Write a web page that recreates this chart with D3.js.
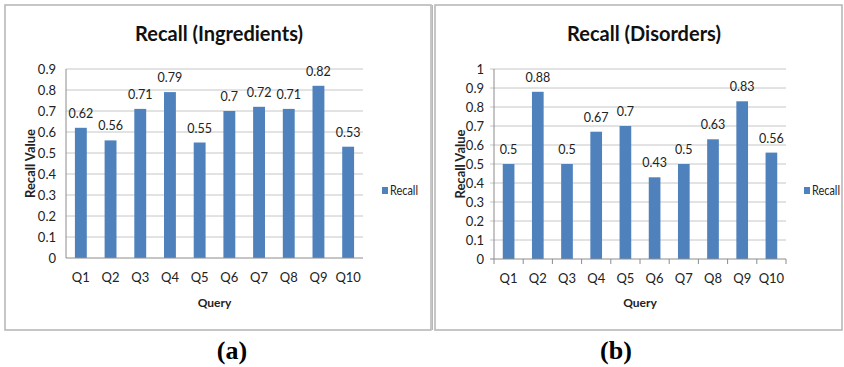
<!DOCTYPE html>
<html><head><meta charset="utf-8">
<script src="https://cdn.jsdelivr.net/npm/d3@7"></script>
<style>body{margin:0;background:#fff;}svg{display:block;}</style>
</head><body>
<svg id="chart" width="844" height="367"></svg>
<script>
const categories = ["Q1","Q2","Q3","Q4","Q5","Q6","Q7","Q8","Q9","Q10"];
const recallIngredients = [0.62,0.56,0.71,0.79,0.55,0.7,0.72,0.71,0.82,0.53];
const recallDisorders = [0.5,0.88,0.5,0.67,0.7,0.43,0.5,0.63,0.83,0.56];
const ticksIngredients = [0,0.1,0.2,0.3,0.4,0.5,0.6,0.7,0.8,0.9];
const ticksDisorders = [0,0.1,0.2,0.3,0.4,0.5,0.6,0.7,0.8,0.9,1];
const titles = ["Recall (Ingredients)","Recall (Disorders)"];
const captions = ["(a)","(b)"];
const seriesName = "Recall";

const svg = d3.select("#chart");
const FONT = "Lato, 'Open Sans', sans-serif";
const BAR = "#4f81bd";

function panel(cfg){
  const g = svg.append("g");
  g.append("rect").attr("x",cfg.box[0]).attr("y",cfg.box[1]).attr("width",cfg.box[2]).attr("height",cfg.box[3])
    .attr("fill","#fff").attr("stroke","#b8b8b8").attr("stroke-width",1.6);
  const x = d3.scaleBand().domain(categories).range([cfg.left,cfg.right]).paddingInner(0.6).paddingOuter(0.3);
  const xb = d3.scaleBand().domain(categories).range([cfg.left,cfg.right]);
  const y = d3.scaleLinear().domain([0,cfg.ymax]).range([cfg.bottom,cfg.top]);
  g.selectAll(".grid").data(cfg.ticks.filter(t=>t>0)).join("line")
    .attr("x1",cfg.left-(cfg.xticks?4:0)).attr("x2",cfg.right)
    .attr("y1",d=>y(d)).attr("y2",d=>y(d)).attr("stroke","#c6c6c6").attr("stroke-width",1);
  g.selectAll(".yl").data(cfg.ticks).join("text")
    .attr("x",cfg.left-10).attr("y",d=>y(d)).attr("dy","0.35em")
    .attr("text-anchor","end").attr("font-family",FONT).attr("font-size",13).attr("fill","#222")
    .text(d=>String(d));
  g.selectAll(".bar").data(cfg.values).join("rect")
    .attr("x",(d,i)=>x(categories[i])).attr("width",x.bandwidth())
    .attr("y",d=>y(d)).attr("height",d=>cfg.bottom-y(d)).attr("fill",BAR);
  g.selectAll(".dl").data(cfg.values).join("text")
    .attr("x",(d,i)=>x(categories[i])+x.bandwidth()/2).attr("y",d=>y(d)-10)
    .attr("text-anchor","middle").attr("font-family",FONT).attr("font-size",12.5).attr("fill","#222")
    .text(d=>String(d));
  g.append("line").attr("x1",cfg.left).attr("x2",cfg.left).attr("y1",cfg.top).attr("y2",cfg.bottom).attr("stroke","#8c8c8c");
  g.append("line").attr("x1",cfg.left-(cfg.xticks?4:0)).attr("x2",cfg.right).attr("y1",cfg.bottom).attr("y2",cfg.bottom).attr("stroke","#8c8c8c");
  if(cfg.xticks){
    const bounds = categories.map(c=>xb(c)).concat([cfg.right]);
    g.selectAll(".xt").data(bounds).join("line")
      .attr("x1",d=>d).attr("x2",d=>d).attr("y1",cfg.bottom).attr("y2",cfg.bottom+5).attr("stroke","#8c8c8c");
  }
  g.selectAll(".xl").data(categories).join("text")
    .attr("x",d=>xb(d)+xb.bandwidth()/2).attr("y",cfg.bottom+24)
    .attr("text-anchor","middle").attr("font-family",FONT).attr("font-size",13).attr("fill","#222")
    .text(d=>d);
  g.append("text").attr("x",cfg.titleX).attr("y",41).attr("text-anchor","middle")
    .attr("font-family",FONT).attr("font-weight","bold").attr("font-size",20).attr("fill","#111").text(cfg.title);
  g.append("text").attr("x",(cfg.left+cfg.right)/2).attr("y",307).attr("text-anchor","middle")
    .attr("font-family",FONT).attr("font-weight","bold").attr("font-size",12).attr("fill","#222").text("Query");
  g.append("text").attr("transform",`translate(${cfg.ytX},${(cfg.top+cfg.bottom)/2}) rotate(-90)`)
    .attr("text-anchor","middle").attr("font-family",FONT).attr("font-weight","bold").attr("font-size",13).attr("fill","#222").text("Recall Value");
  g.append("rect").attr("x",cfg.legX).attr("y",187).attr("width",6).attr("height",7).attr("fill",BAR);
  g.append("text").attr("x",cfg.legX+8).attr("y",190.5).attr("dy","0.35em")
    .attr("font-family",FONT).attr("font-size",12.5).attr("fill","#222")
    .attr("textLength",28).attr("lengthAdjust","spacingAndGlyphs").text(seriesName);
  svg.append("text").attr("x",cfg.capX).attr("y",359).attr("text-anchor","middle")
    .attr("font-family","'Liberation Serif', serif").attr("font-weight","bold").attr("font-size",26).attr("fill","#000").text(cfg.caption);
}

panel({box:[5,5,426,325], left:66, right:363, top:69, bottom:258, ymax:0.9, ticks:ticksIngredients,
  values:recallIngredients, xticks:false, title:titles[0], titleX:219, ytX:35, legX:382, capX:232, caption:captions[0]});
panel({box:[435,5,407,325], left:494, right:786, top:69, bottom:259, ymax:1, ticks:ticksDisorders,
  values:recallDisorders, xticks:true, title:titles[1], titleX:644, ytX:465, legX:804, capX:616, caption:captions[1]});
svg.append("line").attr("x1",432.5).attr("x2",432.5).attr("y1",5).attr("y2",330).attr("stroke","#b8b8b8").attr("stroke-width",1);
</script>
</body></html>
